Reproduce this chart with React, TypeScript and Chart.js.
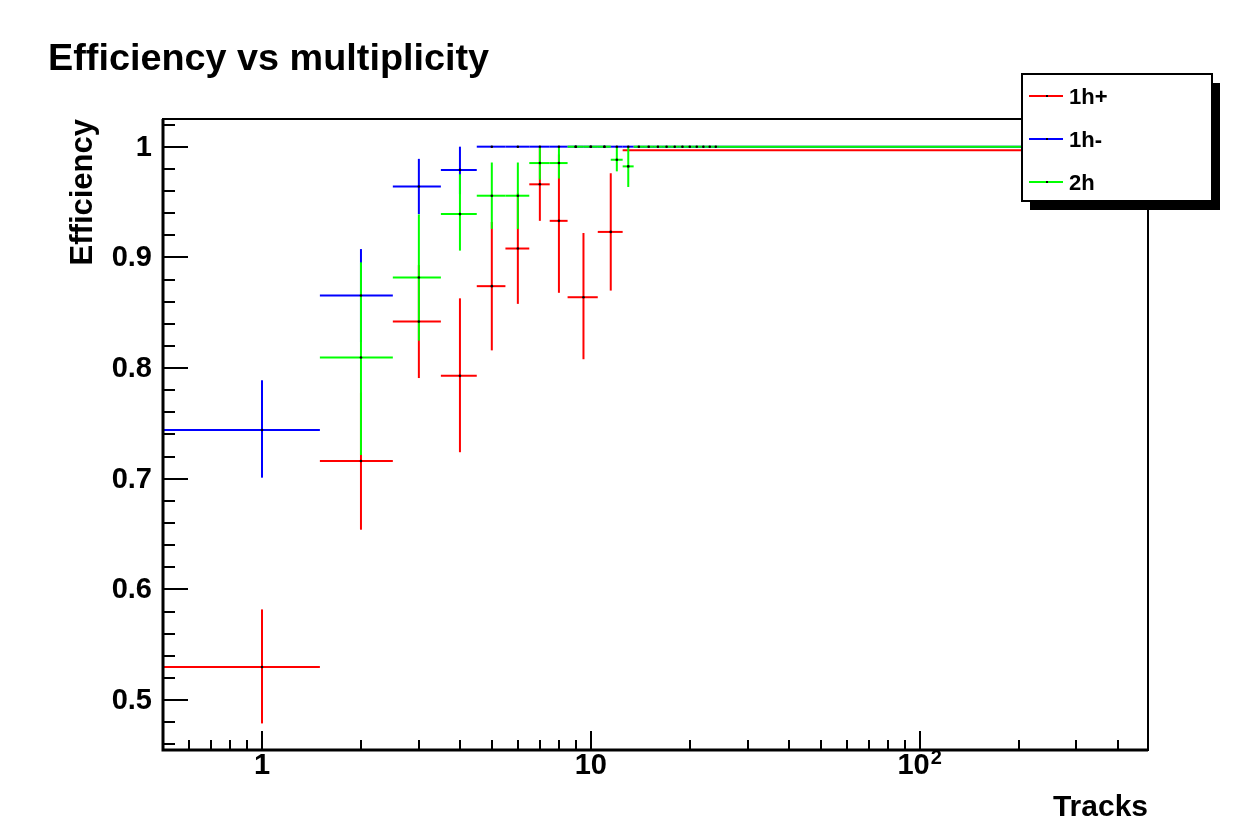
import React, { useEffect, useRef } from "react";
import { Chart, registerables } from "chart.js";

Chart.register(...registerables);

const chartTitle = "Efficiency vs multiplicity";
const xAxisTitle = "Tracks";
const yAxisTitle = "Efficiency";

const seriesNames = ["1h+", "1h-", "2h"];
const seriesColors = ["#ff0000", "#0000ff", "#00ff00"];

// 1h+
const redX = [1, 2, 3, 4, 5, 6, 7, 8, 9.5, 11.5, 256];
const redXLow = [0.5, 1.5, 2.5, 3.5, 4.5, 5.5, 6.5, 7.5, 8.5, 10.5, 12.5];
const redXHigh = [1.5, 2.5, 3.5, 4.5, 5.5, 6.5, 7.5, 8.5, 10.5, 12.5, 1000];
const redY = [0.53, 0.716, 0.842, 0.793, 0.874, 0.908, 0.966, 0.933, 0.864, 0.923, 0.9967];
const redErrLow = [0.051, 0.062, 0.051, 0.069, 0.058, 0.05, 0.033, 0.065, 0.056, 0.053, 0];
const redErrHigh = [0.052, 0.062, 0.051, 0.07, 0.058, 0.05, 0.033, 0.06, 0.058, 0.053, 0];

// 1h-
const blueX = [1, 2, 3, 4, 5, 6, 7, 8, 9, 10, 11, 12, 13, 256];
const blueXLow = [0.5, 1.5, 2.5, 3.5, 4.5, 5.5, 6.5, 7.5, 8.5, 9.5, 10.5, 11.5, 12.5, 13.5];
const blueXHigh = [1.5, 2.5, 3.5, 4.5, 5.5, 6.5, 7.5, 8.5, 9.5, 10.5, 11.5, 12.5, 13.5, 1000];
const blueY = [0.744, 0.8655, 0.964, 0.979, 1, 1, 1, 1, 1, 1, 1, 1, 1, 1];
const blueErrLow = [0.043, 0.042, 0.025, 0.022, 0, 0, 0, 0, 0, 0, 0, 0, 0, 0];
const blueErrHigh = [0.045, 0.042, 0.025, 0.021, 0, 0, 0, 0, 0, 0, 0, 0, 0, 0];

// 2h
const greenX = [2, 3, 4, 5, 6, 7, 8, 9, 10, 11, 12, 13, 14, 15, 16, 17, 18, 19, 20, 21, 22, 23, 24, 256];
const greenXLow = [1.5, 2.5, 3.5, 4.5, 5.5, 6.5, 7.5, 8.5, 9.5, 10.5, 11.5, 12.5, 13.5, 14.5, 15.5, 16.5, 17.5, 18.5, 19.5, 20.5, 21.5, 22.5, 23.5, 24.5];
const greenXHigh = [2.5, 3.5, 4.5, 5.5, 6.5, 7.5, 8.5, 9.5, 10.5, 11.5, 12.5, 13.5, 14.5, 15.5, 16.5, 17.5, 18.5, 19.5, 20.5, 21.5, 22.5, 23.5, 24.5, 1000];
const greenY = [0.8095, 0.8818, 0.9391, 0.9557, 0.9557, 0.9852, 0.9852, 1, 1, 1, 0.9882, 0.9822, 1, 1, 1, 1, 1, 1, 1, 1, 1, 1, 1, 1];
const greenErrLow = [0.088, 0.057, 0.033, 0.03, 0.03, 0.015, 0.014, 0, 0, 0, 0.0105, 0.0186, 0, 0, 0, 0, 0, 0, 0, 0, 0, 0, 0, 0];
const greenErrHigh = [0.086, 0.057, 0.036, 0.03, 0.03, 0.0148, 0.0148, 0, 0, 0, 0.0118, 0.0178, 0, 0, 0, 0, 0, 0, 0, 0, 0, 0, 0, 0];

// axes
const xMin = 0.5;
const xMax = 495;
const yMin = 0.455;
const yMax = 1.025;
const xMajorTicks = [1, 10, 100];
const xTickLabelBase = ["1", "10", "10"];
const xTickLabelExp = ["", "", "2"];
const xMinorTicks = [0.6, 0.7, 0.8, 0.9, 2, 3, 4, 5, 6, 7, 8, 9, 20, 30, 40, 50, 60, 70, 80, 90, 200, 300, 400];
const yMajorTicks = [0.5, 0.6, 0.7, 0.8, 0.9, 1];
const yTickLabels = ["0.5", "0.6", "0.7", "0.8", "0.9", "1"];
const yMinorTicks = [0.46, 0.48, 0.52, 0.54, 0.56, 0.58, 0.62, 0.64, 0.66, 0.68, 0.72, 0.74, 0.76, 0.78, 0.82, 0.84, 0.86, 0.88, 0.92, 0.94, 0.96, 0.98, 1.02];

const FONT = "'Liberation Sans', Arial, Helvetica, sans-serif";

type Series = {
  name: string;
  color: string;
  x: number[];
  xLow: number[];
  xHigh: number[];
  y: number[];
  errLow: number[];
  errHigh: number[];
};

const seriesList: Series[] = [
  { name: seriesNames[0], color: seriesColors[0], x: redX, xLow: redXLow, xHigh: redXHigh, y: redY, errLow: redErrLow, errHigh: redErrHigh },
  { name: seriesNames[1], color: seriesColors[1], x: blueX, xLow: blueXLow, xHigh: blueXHigh, y: blueY, errLow: blueErrLow, errHigh: blueErrHigh },
  { name: seriesNames[2], color: seriesColors[2], x: greenX, xLow: greenXLow, xHigh: greenXHigh, y: greenY, errLow: greenErrLow, errHigh: greenErrHigh },
];

const rootPlugin = {
  id: "rootStyle",
  beforeDatasetsDraw(chart: any) {
    const { ctx, chartArea: a, scales } = chart;
    const xs = scales.x;
    const ys = scales.y;
    ctx.save();
    ctx.beginPath();
    ctx.rect(a.left, a.top, a.right - a.left, a.bottom - a.top);
    ctx.clip();
    ctx.lineWidth = 2;
    ctx.lineCap = "butt";
    seriesList.forEach((s) => {
      ctx.strokeStyle = s.color;
      s.x.forEach((x, i) => {
        const px = xs.getPixelForValue(x);
        const py = ys.getPixelForValue(s.y[i]);
        ctx.beginPath();
        ctx.moveTo(xs.getPixelForValue(s.xLow[i]), py);
        ctx.lineTo(xs.getPixelForValue(s.xHigh[i]), py);
        ctx.stroke();
        if (s.errLow[i] > 0 || s.errHigh[i] > 0) {
          ctx.beginPath();
          ctx.moveTo(px, ys.getPixelForValue(s.y[i] + s.errHigh[i]));
          ctx.lineTo(px, ys.getPixelForValue(s.y[i] - s.errLow[i]));
          ctx.stroke();
        }
      });
    });
    ctx.restore();
  },
  afterDraw(chart: any) {
    const { ctx, chartArea: a, scales } = chart;
    const xs = scales.x;
    const ys = scales.y;
    ctx.save();
    ctx.strokeStyle = "#000";
    ctx.fillStyle = "#000";

    // frame
    ctx.lineWidth = 2;
    ctx.strokeRect(a.left, a.top, a.right - a.left, a.bottom - a.top);
    ctx.lineWidth = 3;
    ctx.beginPath();
    ctx.moveTo(a.left, a.top);
    ctx.lineTo(a.left, a.bottom);
    ctx.lineTo(a.right, a.bottom);
    ctx.stroke();

    // y ticks
    ctx.lineWidth = 2;
    yMajorTicks.forEach((v) => {
      const py = Math.round(ys.getPixelForValue(v));
      ctx.beginPath();
      ctx.moveTo(a.left, py);
      ctx.lineTo(a.left + 25, py);
      ctx.stroke();
    });
    yMinorTicks.forEach((v) => {
      const py = Math.round(ys.getPixelForValue(v));
      ctx.beginPath();
      ctx.moveTo(a.left, py);
      ctx.lineTo(a.left + 12, py);
      ctx.stroke();
    });
    // x ticks
    xMajorTicks.forEach((v) => {
      const px = Math.round(xs.getPixelForValue(v));
      ctx.beginPath();
      ctx.moveTo(px, a.bottom);
      ctx.lineTo(px, a.bottom - 19);
      ctx.stroke();
    });
    xMinorTicks.forEach((v) => {
      const px = Math.round(xs.getPixelForValue(v));
      ctx.beginPath();
      ctx.moveTo(px, a.bottom);
      ctx.lineTo(px, a.bottom - 10);
      ctx.stroke();
    });

    // y tick labels
    ctx.font = `bold 29px ${FONT}`;
    ctx.textAlign = "right";
    ctx.textBaseline = "middle";
    yMajorTicks.forEach((v, i) => {
      ctx.fillText(yTickLabels[i], a.left - 11, ys.getPixelForValue(v) + 1);
    });

    // x tick labels
    ctx.textBaseline = "alphabetic";
    ctx.textAlign = "left";
    xMajorTicks.forEach((v, i) => {
      const px = xs.getPixelForValue(v);
      ctx.font = `bold 29px ${FONT}`;
      const wb = ctx.measureText(xTickLabelBase[i]).width;
      ctx.font = `bold 20px ${FONT}`;
      const we = xTickLabelExp[i] ? ctx.measureText(xTickLabelExp[i]).width + 1 : 0;
      const start = px - (wb + we) / 2;
      ctx.font = `bold 29px ${FONT}`;
      ctx.fillText(xTickLabelBase[i], start, a.bottom + 24);
      if (xTickLabelExp[i]) {
        ctx.font = `bold 20px ${FONT}`;
        ctx.fillText(xTickLabelExp[i], start + wb + 1, a.bottom + 14);
      }
    });

    // axis titles
    ctx.font = `bold 30px ${FONT}`;
    ctx.textAlign = "right";
    ctx.fillText(xAxisTitle, a.right, 816);
    ctx.save();
    ctx.translate(92, a.top);
    ctx.rotate(-Math.PI / 2);
    ctx.font = `bold 31px ${FONT}`;
    ctx.textAlign = "right";
    ctx.fillText(yAxisTitle, 0, 0);
    ctx.restore();

    // title
    ctx.save();
    ctx.translate(48, 70);
    ctx.scale(1.05, 1);
    ctx.font = `bold 36px ${FONT}`;
    ctx.textAlign = "left";
    ctx.fillText(chartTitle, 0, 0);
    ctx.restore();

    // legend
    const lx0 = 1022, ly0 = 74, lx1 = 1212, ly1 = 201;
    ctx.fillStyle = "#000";
    ctx.fillRect(lx0 + 8, ly0 + 9, lx1 - lx0, ly1 - ly0);
    ctx.fillStyle = "#fff";
    ctx.fillRect(lx0, ly0, lx1 - lx0, ly1 - ly0);
    ctx.lineWidth = 2;
    ctx.strokeStyle = "#000";
    ctx.strokeRect(lx0, ly0, lx1 - lx0, ly1 - ly0);
    const rowY = [96, 139, 182];
    seriesList.forEach((s, i) => {
      ctx.strokeStyle = s.color;
      ctx.lineWidth = 2;
      ctx.beginPath();
      ctx.moveTo(1029, rowY[i]);
      ctx.lineTo(1063, rowY[i]);
      ctx.stroke();
      ctx.fillStyle = "#000";
      ctx.fillRect(1046, rowY[i] - 1, 2, 2);
      ctx.font = `bold 22px ${FONT}`;
      ctx.textAlign = "left";
      ctx.textBaseline = "middle";
      ctx.fillText(s.name, 1069, rowY[i] + 2);
    });
    ctx.restore();
  },
};

export default function App() {
  const ref = useRef<HTMLCanvasElement>(null);
  useEffect(() => {
    const canvas = ref.current;
    if (!canvas) return;
    const chart = new Chart(canvas, {
      type: "scatter",
      data: {
        datasets: seriesList.map((s) => ({
          label: s.name,
          data: s.x.map((x, i) => ({ x, y: s.y[i] })),
          pointRadius: 1.3,
          pointBackgroundColor: "#000",
          pointBorderWidth: 0,
          showLine: false,
        })),
      },
      options: {
        animation: false,
        responsive: false,
        devicePixelRatio: 1,
        events: [],
        layout: { autoPadding: false, padding: { left: 163, right: 93, top: 119, bottom: 69 } },
        scales: {
          x: { type: "logarithmic", min: xMin, max: xMax, display: false },
          y: { type: "linear", min: yMin, max: yMax, display: false },
        },
        plugins: {
          legend: { display: false },
          tooltip: { enabled: false },
          title: { display: false },
        },
      } as any,
      plugins: [rootPlugin],
    });
    return () => chart.destroy();
  }, []);
  return (
    <div style={{ position: "fixed", left: 0, top: 0, width: 1241, height: 819, background: "#fff" }}>
      <canvas ref={ref} width={1241} height={819} style={{ display: "block", width: 1241, height: 819 }} />
    </div>
  );
}
